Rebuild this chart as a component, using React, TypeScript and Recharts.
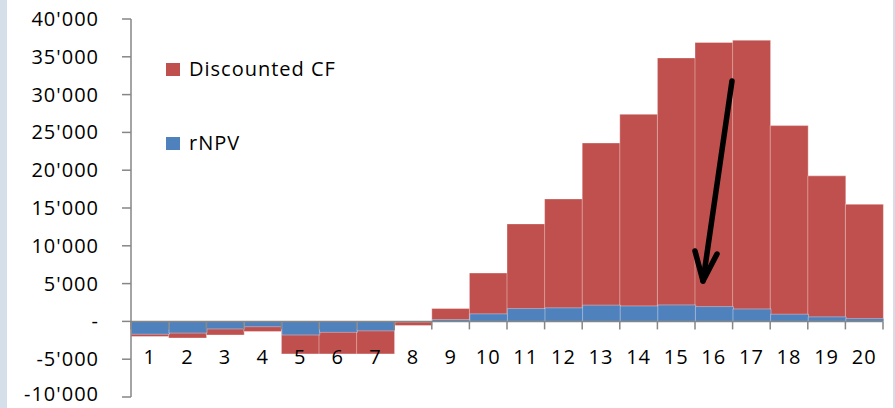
import React from 'react';
import { BarChart, Bar, XAxis, YAxis, ReferenceLine } from 'recharts';

const years = ['1', '2', '3', '4', '5', '6', '7', '8', '9', '10', '11', '12', '13', '14', '15', '16', '17', '18', '19', '20'];
const discountedCF = [-2000, -2200, -1800, -1350, -4300, -4300, -4300, -550, 1700, 6400, 12900, 16200, 23600, 27400, 34850, 36900, 37200, 25900, 19250, 15500];
const rNPV = [-1700, -1550, -1000, -700, -1800, -1450, -1250, -80, 250, 1000, 1700, 1800, 2150, 2050, 2180, 1960, 1650, 950, 600, 370];
const yTicks = [-10000, -5000, 0, 5000, 10000, 15000, 20000, 25000, 30000, 35000, 40000];

const data = years.map((year, i) => ({ year, cf: discountedCF[i], npv: rNPV[i] }));

const W = 895;
const H = 408;
const X_AXIS_H = 1;
const M = { top: 19, right: 12, bottom: 10, left: 0 };
const Y_AXIS_W = 131;
const PLOT_W = W - M.left - M.right - Y_AXIS_W;
const PLOT_H = H - M.top - M.bottom - X_AXIS_H;
const ZERO_Y = M.top + PLOT_H * (40000 / 50000);
const STEP = PLOT_W / years.length;

const FONT = '"Open Sans", sans-serif';
const RED = '#c0504d';
const BLUE = '#4f81bd';
const AXIS = '#868686';

const fmt = (v: number) => {
    if (v === 0) return '-';
    const s = Math.abs(v).toString().replace(/\B(?=(\d{3})+(?!\d))/g, "'");
    return (v < 0 ? '-' : '') + s;
};

const XTick = (props: any) => {
    const { x, payload, index } = props;
    const last = index === years.length - 1;
    return (
        <g>
            <line x1={x - STEP / 2} x2={x - STEP / 2} y1={ZERO_Y} y2={ZERO_Y + 8} stroke={AXIS} strokeWidth={1.5} />
            {last && <line x1={x + STEP / 2} x2={x + STEP / 2} y1={ZERO_Y} y2={ZERO_Y + 8} stroke={AXIS} strokeWidth={1.5} />}
            <text x={x} y={ZERO_Y + 43} textAnchor="middle" fontSize={20} letterSpacing={1} fontFamily={FONT} fill="#000">
                {payload.value}
            </text>
        </g>
    );
};

const YTick = (props: any) => {
    const { x, y, payload } = props;
    // keep the lowest label inside the picture
    const baseline = Math.min(y + 7, H - 7);
    return (
        <text x={x} y={baseline} textAnchor="end" fontSize={20} letterSpacing={1} fontFamily={FONT} fill="#000">
            {fmt(payload.value)}
        </text>
    );
};

const LegendBox = () => (
    <div style={{ position: 'absolute', left: 166, top: 57, fontFamily: FONT, fontSize: 20, letterSpacing: 1, color: '#000', lineHeight: '24px' }}>
        <div style={{ display: 'flex', alignItems: 'center', height: 24 }}>
            <span style={{ width: 14, height: 13, background: RED, marginRight: 9, display: 'inline-block' }} />
            Discounted CF
        </div>
        <div style={{ display: 'flex', alignItems: 'center', height: 24, marginTop: 50 }}>
            <span style={{ width: 14, height: 13, background: BLUE, marginRight: 9, display: 'inline-block' }} />
            rNPV
        </div>
    </div>
);

const App = () => {
    return (
        <div style={{ position: 'absolute', left: 0, top: 0, width: W, height: H, background: '#fff' }}>
            <div style={{ position: 'absolute', left: 0, top: 0, width: 7, height: H, background: '#d5dfea' }} />
            <div style={{ position: 'absolute', right: 0, top: 0, width: 2, height: H, background: '#d5dfea' }} />
            <BarChart width={W} height={H} data={data} margin={M} barCategoryGap={0} barGap="-100%">
                <XAxis
                    dataKey="year"
                    height={X_AXIS_H}
                    axisLine={false}
                    tickLine={false}
                    tick={(p: any) => <XTick {...p} />}
                    interval={0}
                />
                <YAxis
                    width={Y_AXIS_W}
                    domain={[-10000, 40000]}
                    ticks={yTicks}
                    interval={0}
                    stroke={AXIS}
                    tickSize={9}
                    tickMargin={23}
                    tick={(p: any) => <YTick {...p} />}
                    axisLine={{ stroke: AXIS, strokeWidth: 1.5 }}
                    tickLine={{ stroke: AXIS, strokeWidth: 1.5 }}
                />
                <Bar dataKey="cf" name="Discounted CF" fill={RED} stroke="#fff" strokeOpacity={0.35} strokeWidth={1} isAnimationActive={false} />
                <Bar dataKey="npv" name="rNPV" fill={BLUE} stroke="#fff" strokeOpacity={0.35} strokeWidth={1} isAnimationActive={false} />
                <ReferenceLine y={0} stroke={AXIS} strokeWidth={1.5} />
            </BarChart>
            <LegendBox />
            <svg width={W} height={H} style={{ position: 'absolute', left: 0, top: 0, pointerEvents: 'none' }}>
                <line x1={732} y1={81} x2={703} y2={281} stroke="#000" strokeWidth={5.5} strokeLinecap="round" />
                <polyline points="695,251 703,281 717,254" fill="none" stroke="#000" strokeWidth={5.5} strokeLinecap="round" strokeLinejoin="round" />
            </svg>
        </div>
    );
};

export default App;
